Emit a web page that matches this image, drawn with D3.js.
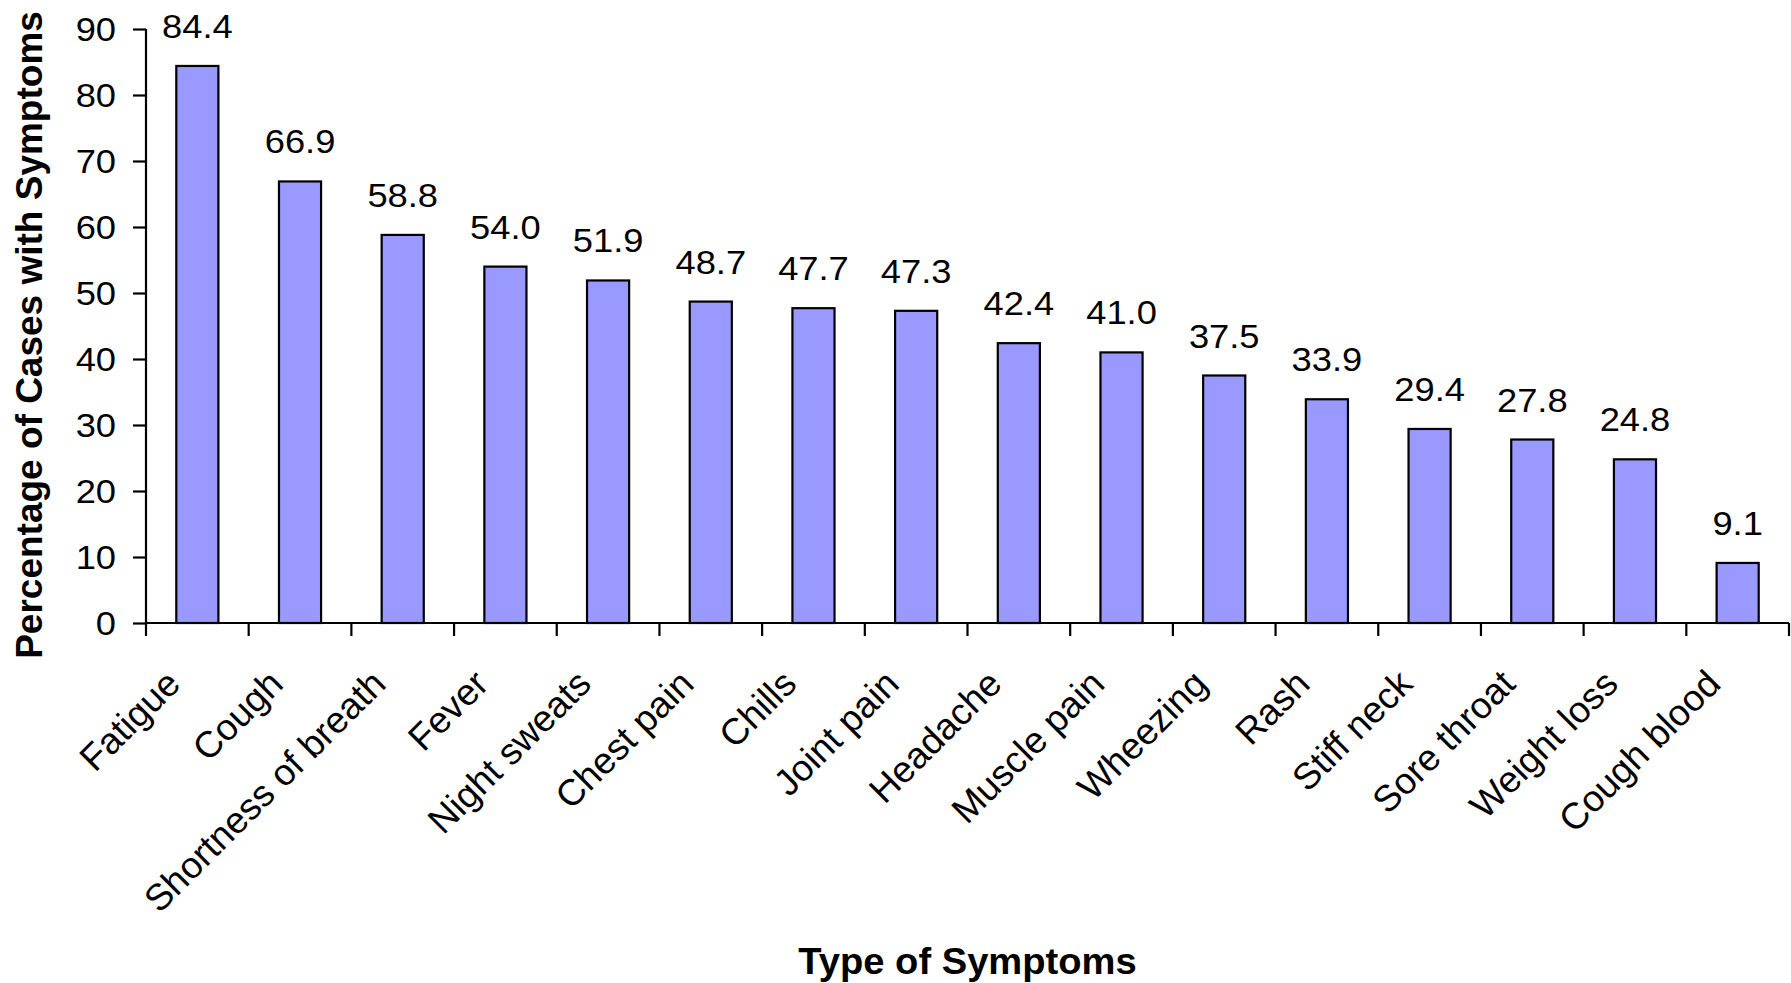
<!DOCTYPE html>
<html>
<head>
<meta charset="utf-8">
<script src="https://cdn.jsdelivr.net/npm/d3@7"></script>
<style>
  html, body { margin: 0; padding: 0; background: #fff; }
  svg { display: block; }
  text { font-family: "Liberation Sans", Arial, sans-serif; fill: #000; }
</style>
</head>
<body>
<svg id="chart" width="1791" height="983"></svg>
<script>
const categories = ["Fatigue", "Cough", "Shortness of breath", "Fever", "Night sweats", "Chest pain",
  "Chills", "Joint pain", "Headache", "Muscle pain", "Wheezing", "Rash", "Stiff neck",
  "Sore throat", "Weight loss", "Cough blood"];
const values = [84.4, 66.9, 58.8, 54.0, 51.9, 48.7, 47.7, 47.3, 42.4, 41.0, 37.5, 33.9, 29.4, 27.8, 24.8, 9.1];
const yTicks = [0, 10, 20, 30, 40, 50, 60, 70, 80, 90];
const yTitle = "Percentage of Cases with Symptoms";
const xTitle = "Type of Symptoms";

(function () {
const svg = d3.select("#chart");
const mLeft = 146, mRight = 1789, mTop = 29, mBottom = 623;
const SX = 1.1;       // horizontal stretch of the reference lettering
const FS = "33px";

const xBand = d3.scaleBand().domain(categories).range([mLeft, mRight]).padding(0);
const xBar = d3.scaleBand().domain(categories).range([mLeft, mRight]).paddingInner(0.59).paddingOuter(0.295);
const y = d3.scaleLinear().domain([0, 90]).range([mBottom, mTop]);

// bars
svg.append("g").selectAll("rect").data(values).join("rect")
  .attr("x", (d, i) => xBar(categories[i]))
  .attr("width", xBar.bandwidth())
  .attr("y", d => y(d))
  .attr("height", d => y(0) - y(d))
  .attr("fill", "#9999FF")
  .attr("stroke", "#000")
  .attr("stroke-width", 2.2);

// value labels
svg.append("g").selectAll("text").data(values).join("text")
  .attr("transform", (d, i) => `translate(${xBar(categories[i]) + xBar.bandwidth() / 2},${y(d) - 28}) scale(${SX},1)`)
  .attr("text-anchor", "middle")
  .style("font-size", FS)
  .text(d => d.toFixed(1));

// y axis
const yAxis = d3.axisLeft(y).tickValues(yTicks).tickSize(13).tickFormat(d3.format("d"));
const gy = svg.append("g").attr("transform", `translate(${mLeft},0)`).call(yAxis);
gy.select(".domain").attr("stroke", "#000").attr("stroke-width", 2.2).attr("d", `M0,${mBottom}V${mTop}`);
gy.selectAll(".tick line").attr("stroke", "#000").attr("stroke-width", 2.2);
gy.selectAll(".tick text")
  .attr("x", 0)
  .attr("transform", `translate(-30,0) scale(${SX},1)`)
  .style("font-size", FS).style("font-family", '"Liberation Sans", Arial, sans-serif')
  .attr("fill", "#000").attr("dy", "0.35em");

// x axis (ticks at category boundaries)
const gx = svg.append("g").attr("transform", `translate(0,${mBottom})`);
gx.append("path").attr("d", `M${mLeft},0H${mRight}`).attr("stroke", "#000").attr("stroke-width", 2.2);
const boundaries = categories.map(c => xBand(c)).concat([mRight]);
gx.selectAll("line.tick").data(boundaries).join("line")
  .attr("class", "tick")
  .attr("x1", d => d).attr("x2", d => d)
  .attr("y1", 0).attr("y2", 13)
  .attr("stroke", "#000").attr("stroke-width", 2.2);
gx.selectAll("text").data(categories).join("text")
  .attr("transform", c => `translate(${xBand(c) + xBand.bandwidth() / 2 - 15},${63}) rotate(-45)`)
  .attr("text-anchor", "end")
  .style("font-size", "37px")
  .text(c => c);

// titles
svg.append("text")
  .attr("transform", `translate(${(mLeft + mRight) / 2},974) scale(1.06,1)`)
  .attr("text-anchor", "middle")
  .style("font-size", "36px").style("font-weight", "bold")
  .text(xTitle);
svg.append("text")
  .attr("transform", `translate(42,${335}) rotate(-90)`)
  .attr("text-anchor", "middle")
  .style("font-size", "37px").style("font-weight", "bold")
  .text(yTitle);
})();
</script>
</body>
</html>
